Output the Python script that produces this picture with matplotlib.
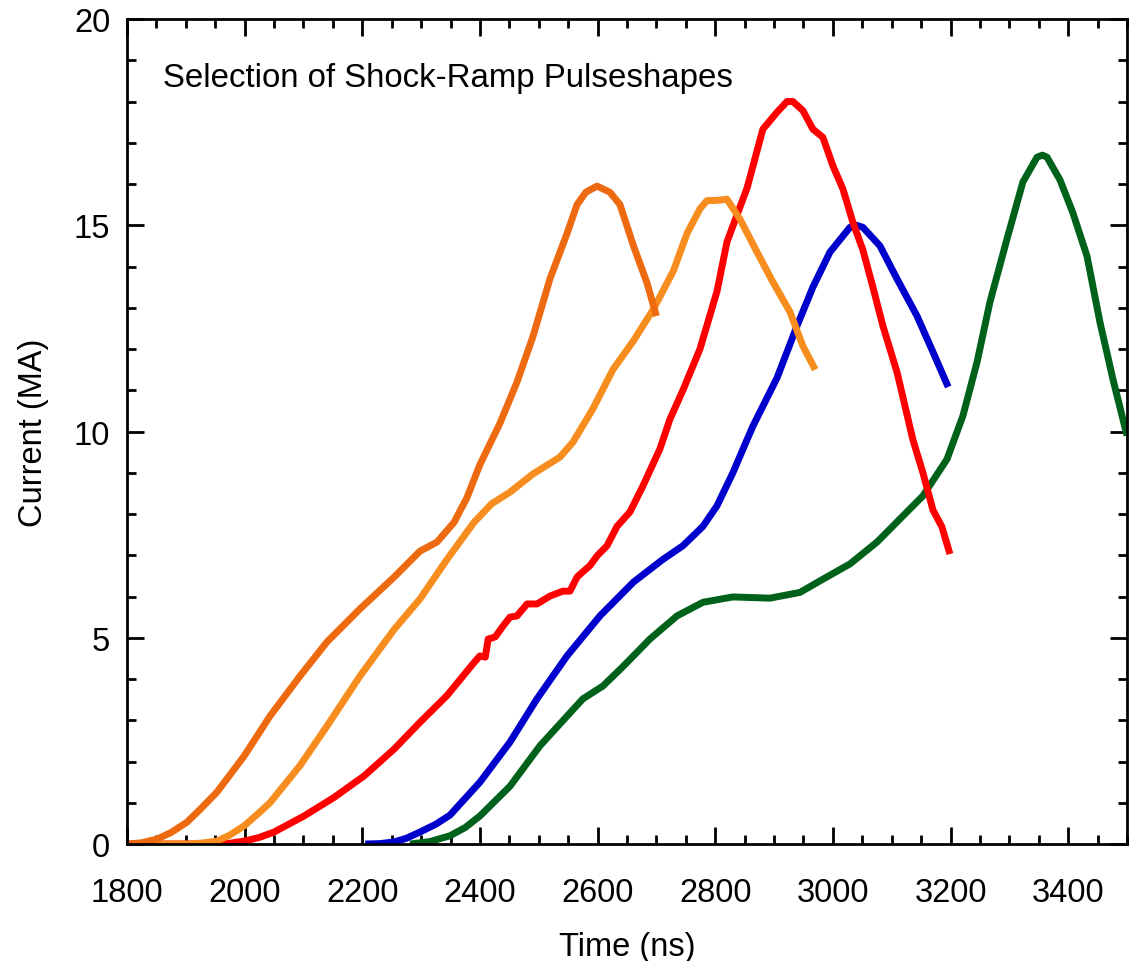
import matplotlib
matplotlib.use("Agg")
import matplotlib.pyplot as plt
from matplotlib.ticker import MultipleLocator

plt.rcParams['font.family'] = ['Liberation Sans', 'DejaVu Sans']

# Pulse 1 (dark orange)
t_p1 = [1800, 1825, 1851, 1875, 1902, 1925, 1953, 1999, 2043, 2094, 2140, 2196,
        2254, 2298, 2327, 2356, 2378, 2400, 2434, 2463, 2490, 2519, 2548, 2565,
        2580, 2599, 2621, 2638, 2661, 2684, 2700]
i_p1 = [0.0, 0.03, 0.12, 0.28, 0.53, 0.85, 1.26, 2.13, 3.1, 4.07, 4.9, 5.7,
        6.47, 7.1, 7.32, 7.8, 8.4, 9.2, 10.2, 11.2, 12.3, 13.7, 14.8, 15.5,
        15.8, 15.95, 15.8, 15.5, 14.5, 13.6, 12.8]

# Pulse 2 (light orange)
t_p2 = [1800, 1900, 1925, 1953, 1975, 1999, 2020, 2043, 2094, 2140, 2196, 2254,
        2298, 2344, 2390, 2420, 2451, 2490, 2536, 2558, 2592, 2626, 2661, 2695,
        2729, 2752, 2774, 2786, 2800, 2820, 2842, 2871, 2897, 2927, 2949, 2970]
i_p2 = [0.0, 0.0, 0.02, 0.07, 0.22, 0.44, 0.7, 1.0, 1.9, 2.86, 4.07, 5.2,
        5.94, 6.9, 7.8, 8.25, 8.53, 8.97, 9.38, 9.74, 10.55, 11.5, 12.2, 12.97,
        13.9, 14.8, 15.4, 15.6, 15.6, 15.63, 15.15, 14.35, 13.65, 12.9, 12.07, 11.5]

# Pulse 3 (red)
t_p3 = [1800, 1950, 1975, 1999, 2025, 2050, 2101, 2152, 2203, 2254, 2298, 2344,
        2390, 2400, 2409, 2414, 2426, 2439, 2451, 2463, 2480, 2497, 2519, 2541,
        2553, 2565, 2575, 2587, 2600, 2616, 2633, 2655, 2677, 2706, 2723, 2745,
        2774, 2803, 2820, 2854, 2881, 2905, 2922, 2932, 2949, 2966, 2983, 3000,
        3017, 3034, 3051, 3068, 3085, 3109, 3136, 3153, 3170, 3185, 3199]
i_p3 = [0.0, 0.0, 0.02, 0.07, 0.16, 0.29, 0.68, 1.13, 1.65, 2.3, 2.95, 3.6,
        4.4, 4.56, 4.53, 4.97, 5.02, 5.28, 5.5, 5.53, 5.82, 5.82, 6.01, 6.13,
        6.13, 6.47, 6.6, 6.75, 7.0, 7.23, 7.7, 8.05, 8.68, 9.58, 10.3, 11.0,
        12.0, 13.4, 14.6, 15.9, 17.33, 17.74, 18.0, 18.0, 17.78, 17.33, 17.13, 16.44,
        15.88, 15.07, 14.4, 13.5, 12.56, 11.44, 9.8, 9.0, 8.1, 7.7, 7.03]

# Pulse 4 (blue)
t_p4 = [2205, 2230, 2254, 2275, 2298, 2325, 2349, 2400, 2451, 2497, 2548, 2604,
        2661, 2711, 2745, 2779, 2803, 2830, 2854, 2864, 2905, 2939, 2966, 2995,
        3029, 3040, 3051, 3080, 3109, 3143, 3170, 3196]
i_p4 = [0.0, 0.01, 0.05, 0.14, 0.29, 0.48, 0.7, 1.5, 2.47, 3.52, 4.56, 5.53,
        6.35, 6.9, 7.23, 7.7, 8.2, 9.0, 9.8, 10.13, 11.3, 12.56, 13.5, 14.35,
        14.95, 15.0, 14.95, 14.5, 13.7, 12.8, 11.93, 11.08]

# Pulse 5 (green)
t_p5 = [2281, 2315, 2349, 2375, 2400, 2451, 2502, 2548, 2575, 2609, 2643, 2689,
        2735, 2779, 2830, 2893, 2944, 2983, 3029, 3075, 3114, 3153, 3194, 3221,
        3245, 3267, 3296, 3323, 3347, 3356, 3364, 3386, 3408, 3432, 3454, 3476,
        3500]
i_p5 = [0.0, 0.06, 0.2, 0.4, 0.68, 1.4, 2.38, 3.1, 3.52, 3.83, 4.3, 4.97,
        5.53, 5.86, 5.99, 5.96, 6.1, 6.42, 6.79, 7.32, 7.88, 8.44, 9.33, 10.38,
        11.68, 13.14, 14.67, 16.05, 16.65, 16.7, 16.65, 16.1, 15.3, 14.25, 12.65, 11.27,
        9.9]

title_text = "Selection of Shock-Ramp Pulseshapes"
x_label = "Time (ns)"
y_label = "Current (MA)"

fig = plt.figure(figsize=(11.36, 9.62), dpi=100)
ax = fig.add_axes([0.1118, 0.1216, 0.8803, 0.8576])

lw = 5.0
style = dict(lw=lw, solid_capstyle='butt', solid_joinstyle='round')
ax.plot(t_p5, i_p5, color='#00621A', **style)
ax.plot(t_p4, i_p4, color='#0000CC', **style)
ax.plot(t_p3, i_p3, color='#FF0000', **style)
ax.plot(t_p2, i_p2, color='#F78D1E', **style)
ax.plot(t_p1, i_p1, color='#EE6A10', **style)

ax.set_xlim(1800, 3500)
ax.set_ylim(0, 20)
ax.xaxis.set_major_locator(MultipleLocator(200))
ax.xaxis.set_minor_locator(MultipleLocator(50))
ax.yaxis.set_major_locator(MultipleLocator(5))
ax.yaxis.set_minor_locator(MultipleLocator(1))

ax.tick_params(which='both', direction='in', top=True, right=True, width=2.0,
               colors='black')
ax.tick_params(which='major', length=12.5)
ax.tick_params(which='minor', length=6.5)
ax.tick_params(axis='x', which='major', labelsize=23.5, pad=24)
ax.tick_params(axis='y', which='major', labelsize=23.5, pad=12)
for s in ax.spines.values():
    s.set_linewidth(2.0)

ax.set_xlabel(x_label, fontsize=23.5, labelpad=16)
ax.set_ylabel(y_label, fontsize=23.5, labelpad=18)

ax.text(0.036, 0.9188, title_text, transform=ax.transAxes, fontsize=23.8,
        ha='left', va='baseline')

fig.savefig("out.png", dpi=100)
